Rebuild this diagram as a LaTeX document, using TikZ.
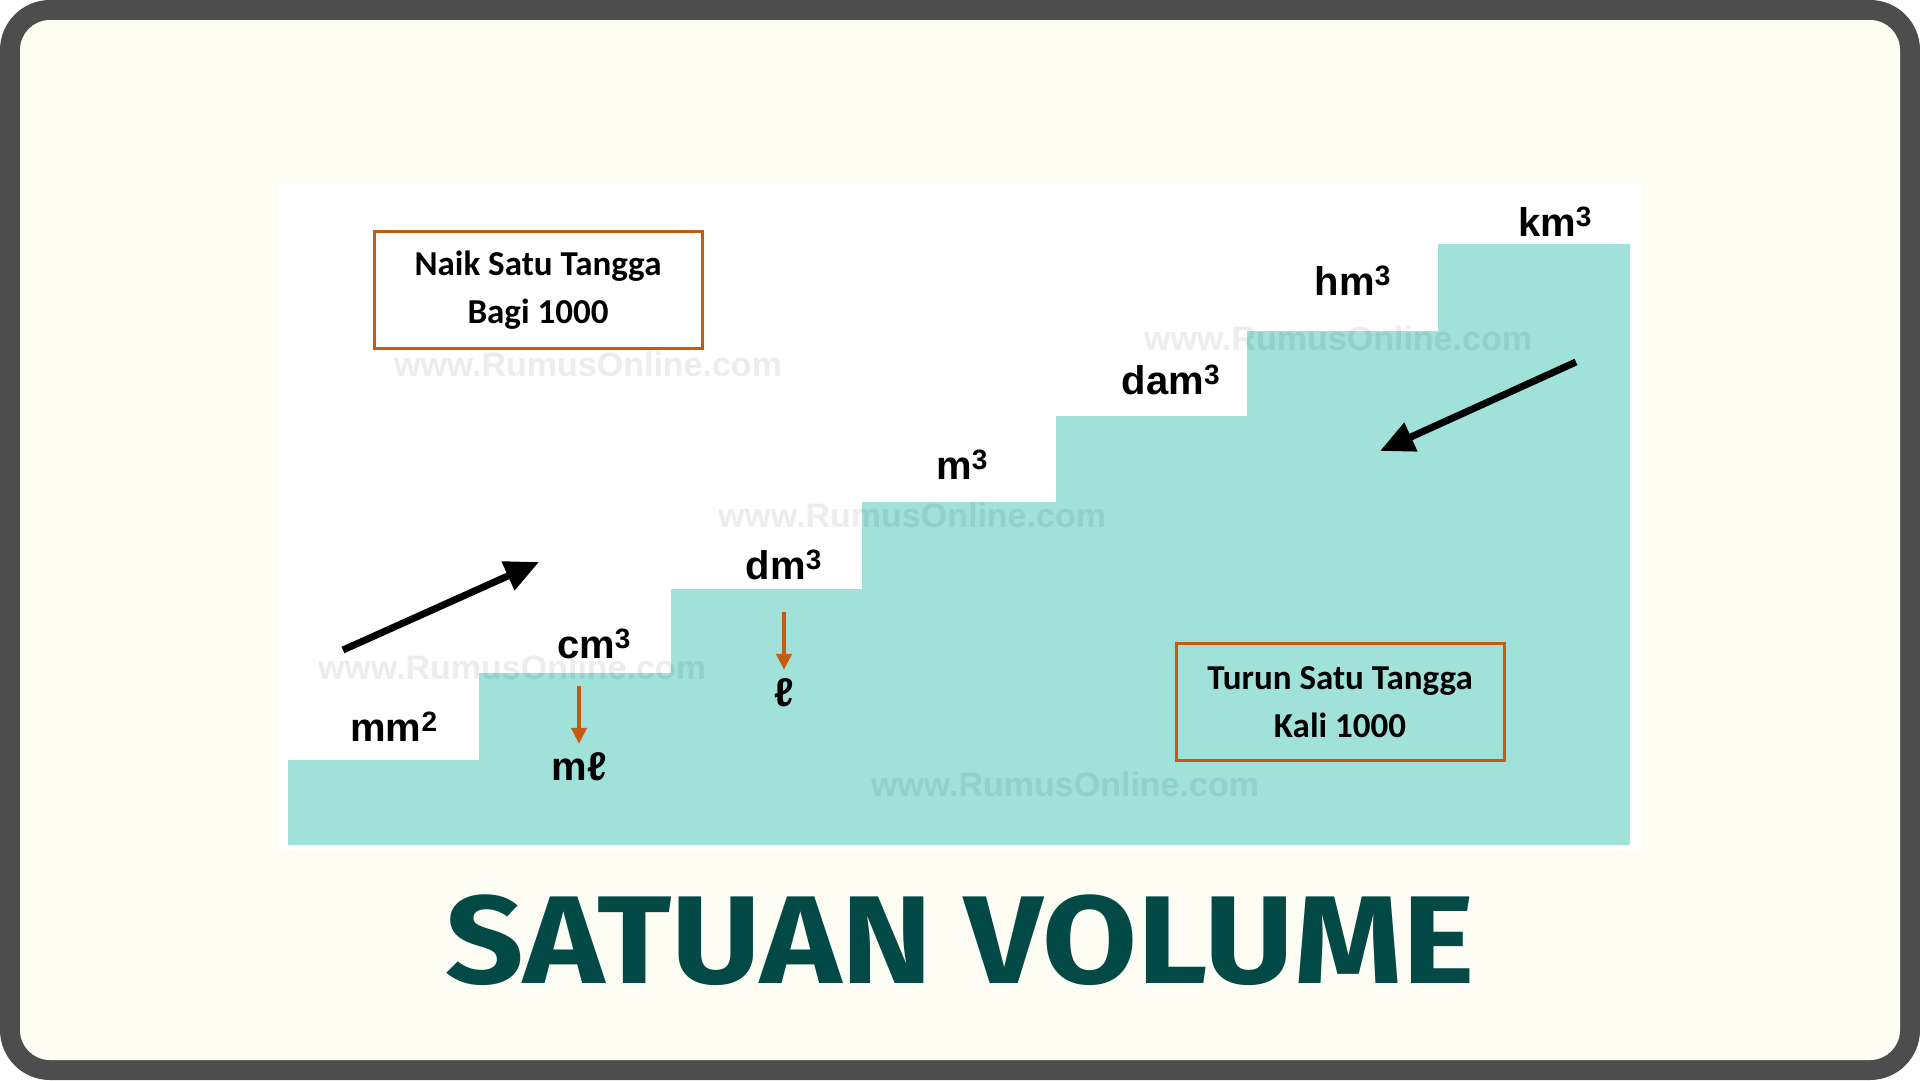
\documentclass[tikz,border=0pt]{standalone}
\usepackage{fontspec}
\setmainfont{Liberation Sans}
\newfontfamily\boxfont{Carlito}
\newfontfamily\titlefont{Fira Sans}
\usetikzlibrary{arrows.meta}
\definecolor{framegray}{HTML}{4D4D4D}
\definecolor{cream}{HTML}{FDFDF4}
\definecolor{stairteal}{HTML}{A0E1DA}
\definecolor{boxorange}{HTML}{C55A11}
\definecolor{titleteal}{HTML}{034A47}
\tikzset{
  unit/.style={font=\fontsize{40}{48}\selectfont\bfseries, inner sep=0pt, anchor=base},
  rulebox/.style={draw=boxorange, line width=3pt, minimum width=328pt, minimum height=117pt,
    align=center, font=\boxfont\bfseries\fontsize{35}{48}\selectfont},
  upstair/.style={-{Triangle[length=34pt,width=30pt]}, line width=7pt},
  tolitre/.style={-{Triangle[length=16pt,width=15pt]}, line width=4pt, draw=boxorange},
  watermark/.style={text=black, opacity=0.07, font=\fontsize{34}{34}\selectfont\bfseries}
}
\begin{document}
\begin{tikzpicture}[x=1pt,y=-1pt]
\useasboundingbox (0,0) rectangle (1920,1080);
\fill[framegray, rounded corners=50pt] (0,0) rectangle (1920,1080);
\fill[cream, rounded corners=30pt] (20,20) rectangle (1900,1060);
\fill[white] (279,184) rectangle (1641,850);

\fill[stairteal] (288,845) -- (288,760) -- (479,760) -- (479,673) -- (671,673) -- (671,589)
  -- (862,589) -- (862,502) -- (1056,502) -- (1056,416) -- (1247,416) -- (1247,331)
  -- (1438,331) -- (1438,244) -- (1630,244) -- (1630,845) -- cycle;

\node[watermark] (wm1) at (588,364) {www.RumusOnline.com};
\node[watermark] (wm2) at (912,515) {www.RumusOnline.com};
\node[watermark] (wm3) at (512,667) {www.RumusOnline.com};
\node[watermark] (wm4) at (1338,338) {www.RumusOnline.com};
\node[watermark] (wm5) at (1065,784) {www.RumusOnline.com};

\node[unit] (mm) at (394,741) {mm\textsuperscript{2}};
\node[unit] (cm) at (594,658) {cm\textsuperscript{3}};
\node[unit] (dm) at (784,579) {dm\textsuperscript{3}};
\node[unit] (m) at (962,479) {m\textsuperscript{3}};
\node[unit] (dam) at (1171,394) {dam\textsuperscript{3}};
\node[unit] (hm) at (1353,295) {hm\textsuperscript{3}};
\node[unit] (km) at (1555,236) {km\textsuperscript{3}};

\node[unit] (ml) at (579,780) {mℓ};
\node[unit] (l) at (784,706) {ℓ};

\draw[tolitre] ([xshift=-15pt,yshift=-28pt]cm.base) -- ([yshift=8pt]ml.north);
\draw[tolitre] ([yshift=-33pt]dm.base) -- ([yshift=8pt]l.north);

\node[rulebox] (naik) at (538,290) {Naik Satu Tangga\\Bagi 1000};
\node[rulebox] (turun) at (1340,702) {Turun Satu Tangga\\Kali 1000};

\coordinate (upstart) at (343,650);
\coordinate (upend) at (539,562);
\coordinate (downstart) at (1576,362);
\coordinate (downend) at (1380,451);
\draw[upstair] (upstart) -- (upend);
\draw[upstair] (downstart) -- (downend);

\node[text=titleteal, font=\titlefont\bfseries\fontsize{125}{125}\selectfont, inner sep=0pt,
  xscale=1.1] (title) at (960,940) {SATUAN VOLUME};
\end{tikzpicture}
\end{document}
